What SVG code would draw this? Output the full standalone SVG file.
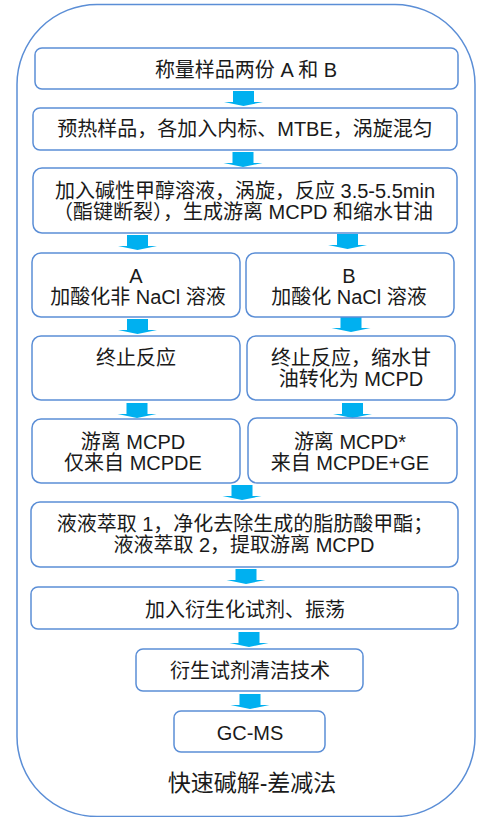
<svg xmlns="http://www.w3.org/2000/svg" width="483" height="817" viewBox="0 0 483 817">
<defs>
<style>
.box{fill:#fff;stroke:#5B8ED6;stroke-width:1.5}
.outer{fill:#fff;stroke:#5B8ED6;stroke-width:1.5}
text{font-family:"Liberation Sans","Noto Sans CJK SC",sans-serif;font-size:20px;fill:#1a1a1a;text-anchor:middle}
.title{font-size:23px}
.arr{fill:#00B0F0}
</style>
<path id="ar" class="arr" d="M-10.5,0 H10.5 V11 H19.5 L0,15 L-19.5,11 H-10.5 Z"/>
</defs>
<rect class="outer" x="17" y="4.5" width="458" height="812" rx="80" ry="80"/>
<g id="connectors">
<use href="#ar" x="243.5" y="91"/>
<use href="#ar" x="243" y="152"/>
<use href="#ar" x="137.5" y="235"/>
<use href="#ar" x="347.5" y="234"/>
<use href="#ar" x="137.5" y="319"/>
<use href="#ar" x="351" y="317"/>
<use href="#ar" x="137" y="403"/>
<use href="#ar" x="352.5" y="403"/>
<use href="#ar" x="242" y="485"/>
<use href="#ar" x="246" y="569"/>
<use href="#ar" x="249" y="632"/>
<use href="#ar" x="250" y="694"/>
</g>
<g id="n1"><rect class="box" x="35" y="48" width="423" height="41" rx="7"/><text x="246" y="77">称量样品两份 A 和 B</text></g>
<g id="n2"><rect class="box" x="33" y="108" width="424" height="42" rx="7"/><text x="245" y="136">预热样品，各加入内标、MTBE，涡旋混匀</text></g>
<g id="n3"><rect class="box" x="33" y="168" width="424" height="65" rx="9"/><text x="245" y="198">加入碱性甲醇溶液，涡旋，反应 3.5-5.5min</text><text x="243" y="219">（酯键断裂），生成游离 MCPD 和缩水甘油</text></g>
<g id="nA1"><rect class="box" x="32" y="253" width="208" height="64" rx="9"/><text x="136" y="283">A</text><text x="138" y="304">加酸化非 NaCl 溶液</text></g>
<g id="nB1"><rect class="box" x="246" y="253" width="208" height="64" rx="9"/><text x="349" y="283">B</text><text x="349" y="304">加酸化 NaCl 溶液</text></g>
<g id="nA2"><rect class="box" x="32" y="336" width="208" height="64" rx="9"/><text x="136" y="365">终止反应</text></g>
<g id="nB2"><rect class="box" x="247" y="336" width="208" height="64" rx="9"/><text x="351" y="365">终止反应，缩水甘</text><text x="351" y="386">油转化为 MCPD</text></g>
<g id="nA3"><rect class="box" x="32" y="419" width="208" height="64" rx="9"/><text x="133" y="449">游离 MCPD</text><text x="133" y="470">仅来自 MCPDE</text></g>
<g id="nB3"><rect class="box" x="248" y="418" width="209" height="65" rx="9"/><text x="350" y="449">游离 MCPD*</text><text x="350" y="470">来自 MCPDE+GE</text></g>
<g id="n4"><rect class="box" x="31" y="502" width="427" height="65" rx="9"/><text x="245" y="531">液液萃取 1，净化去除生成的脂肪酸甲酯；</text><text x="244" y="552">液液萃取 2，提取游离 MCPD</text></g>
<g id="n5"><rect class="box" x="31" y="587" width="427" height="42" rx="7"/><text x="245" y="617">加入衍生化试剂、振荡</text></g>
<g id="n6"><rect class="box" x="136" y="649" width="227" height="42" rx="7"/><text x="250" y="678">衍生试剂清洁技术</text></g>
<g id="n7"><rect class="box" x="174" y="711" width="151" height="41" rx="7"/><text x="250" y="740">GC-MS</text></g>
<text class="title" x="252" y="791">快速碱解-差减法</text>
</svg>
